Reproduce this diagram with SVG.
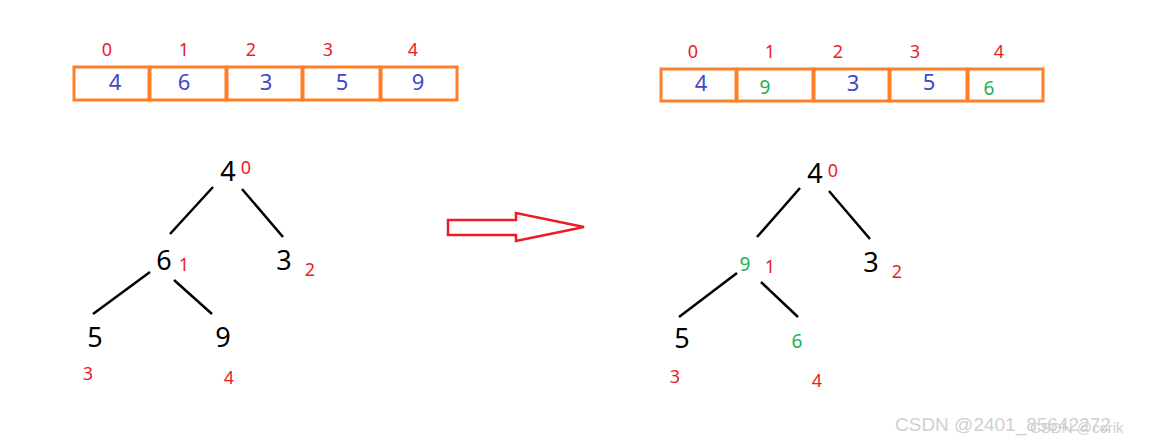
<svg xmlns="http://www.w3.org/2000/svg" width="1161" height="443" viewBox="0 0 1161 443">
<style>
.cell{fill:none;stroke:#FF7F27;stroke-width:3}
.idx{font-family:"Noto Sans","Liberation Sans",sans-serif;font-size:18px;fill:#ED1C24;text-anchor:middle}
.val{font-family:"Noto Sans","Liberation Sans",sans-serif;font-size:22px;fill:#3F48CC;text-anchor:middle}
.grn{font-family:"Noto Sans","Liberation Sans",sans-serif;font-size:19px;fill:#22B14C;text-anchor:middle}
.num{font-family:"Noto Sans","Liberation Sans",sans-serif;font-size:27px;fill:#000;text-anchor:middle}
.edge{stroke:#000;stroke-width:2.5;fill:none}
.wm{font-family:"Liberation Sans",sans-serif;fill:#d0d0d0}
</style>
<rect width="1161" height="443" fill="#fff"/>
<g id="array-before">
<rect class="cell" x="74" y="67" width="75" height="33"/>
<rect class="cell" x="150" y="67" width="76" height="33"/>
<rect class="cell" x="227" y="67" width="75" height="33"/>
<rect class="cell" x="303" y="67" width="77" height="33"/>
<rect class="cell" x="381" y="67" width="76" height="33"/>
<text class="idx" x="107" y="56">0</text>
<text class="idx" x="184" y="56">1</text>
<text class="idx" x="251" y="56">2</text>
<text class="idx" x="328" y="56">3</text>
<text class="idx" x="413" y="56">4</text>
<text class="val" x="115" y="90">4</text>
<text class="val" x="184" y="90">6</text>
<text class="val" x="266" y="90">3</text>
<text class="val" x="342" y="90">5</text>
<text class="val" x="418" y="90">9</text>
</g>
<g id="array-after">
<rect class="cell" x="661" y="69" width="75" height="32"/>
<rect class="cell" x="737" y="69" width="76" height="32"/>
<rect class="cell" x="814" y="69" width="75" height="32"/>
<rect class="cell" x="890" y="69" width="77" height="32"/>
<rect class="cell" x="968" y="69" width="75" height="32"/>
<text class="idx" x="693" y="58">0</text>
<text class="idx" x="770" y="58">1</text>
<text class="idx" x="838" y="58">2</text>
<text class="idx" x="915" y="58">3</text>
<text class="idx" x="999" y="58">4</text>
<text class="val" x="701" y="91">4</text>
<text class="grn" x="765" y="94">9</text>
<text class="val" x="853" y="91">3</text>
<text class="val" x="929" y="90">5</text>
<text class="grn" x="989" y="95">6</text>
</g>
<g id="connectors">
<line class="edge" x1="213" y1="187" x2="170" y2="234"/>
<line class="edge" x1="242" y1="189" x2="283" y2="237"/>
<line class="edge" x1="150" y1="272" x2="93" y2="314"/>
<line class="edge" x1="174" y1="280" x2="212" y2="314"/>
<line class="edge" x1="800" y1="188" x2="757" y2="237"/>
<line class="edge" x1="829" y1="191" x2="870" y2="239"/>
<line class="edge" x1="737" y1="273" x2="679" y2="317"/>
<line class="edge" x1="761" y1="282" x2="798" y2="317"/>
</g>
<g id="tree-before">
<g id="t1-n0"><text class="num" x="228" y="181">4</text><text class="idx" x="246" y="174">0</text></g>
<g id="t1-n1"><text class="num" x="164" y="270">6</text><text class="idx" x="184" y="271">1</text></g>
<g id="t1-n2"><text class="num" x="284" y="270">3</text><text class="idx" x="310" y="276">2</text></g>
<g id="t1-n3"><text class="num" x="95" y="347">5</text><text class="idx" x="88" y="380">3</text></g>
<g id="t1-n4"><text class="num" x="223" y="347">9</text><text class="idx" x="229" y="384">4</text></g>
</g>
<g id="tree-after">
<g id="t2-n0"><text class="num" x="815" y="183">4</text><text class="idx" x="833" y="177">0</text></g>
<g id="t2-n1"><text class="grn" x="745" y="271">9</text><text class="idx" x="770" y="273">1</text></g>
<g id="t2-n2"><text class="num" x="871" y="272">3</text><text class="idx" x="897" y="278">2</text></g>
<g id="t2-n3"><text class="num" x="682" y="348">5</text><text class="idx" x="675" y="383">3</text></g>
<g id="t2-n4"><text class="grn" x="797" y="348">6</text><text class="idx" x="817" y="387">4</text></g>
</g>
<g id="arrow">
<polygon points="448,220 516,220 516,213 584,227 516,241 516,235 448,235" fill="none" stroke="#ED1C24" stroke-width="2.5"/>
</g>
<g id="watermark">
<text class="wm" x="895" y="431" font-size="19">CSDN @2401_85642272</text>
<text class="wm" x="1030" y="433" font-size="15">CSDN @corik</text>
</g>
</svg>
